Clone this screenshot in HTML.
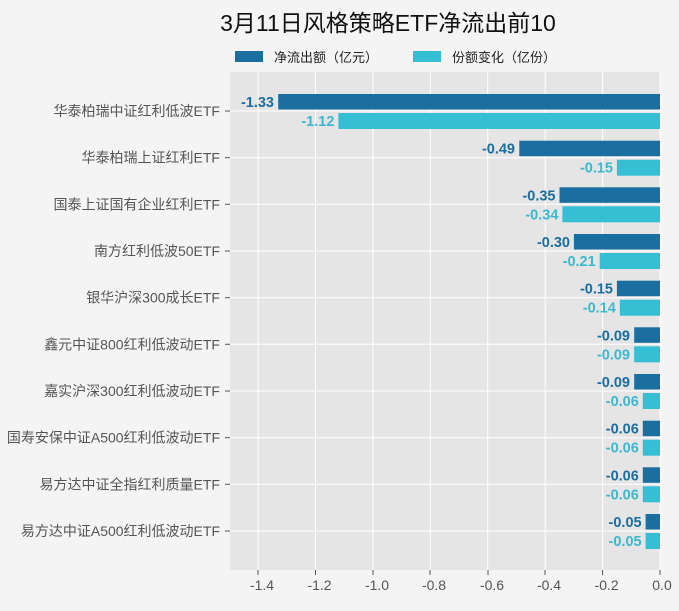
<!DOCTYPE html>
<html><head><meta charset="utf-8"><style>body{margin:0;background:#f4f4f4}</style></head><body>
<svg width="679" height="606" xmlns="http://www.w3.org/2000/svg" font-family="'Liberation Sans','Noto Sans CJK SC',sans-serif">
<rect width="679" height="606" fill="#f4f4f4"/>
<text x="388" y="31" font-size="23" text-anchor="middle" fill="#111">3月11日风格策略ETF净流出前10</text>
<rect x="235" y="51" width="28" height="11" fill="#1a6ea0"/>
<text x="274" y="62" font-size="13" fill="#222">净流出额（亿元）</text>
<rect x="413" y="51" width="28" height="11" fill="#36bfd4"/>
<text x="452" y="62" font-size="13" fill="#222">份额变化（亿份）</text>
<rect x="230" y="72" width="430" height="498" fill="#e5e5e5"/>
<g stroke="#fff" stroke-width="1">
<line x1="258.1" y1="72" x2="258.1" y2="570"/><line x1="315.5" y1="72" x2="315.5" y2="570"/><line x1="372.9" y1="72" x2="372.9" y2="570"/><line x1="430.3" y1="72" x2="430.3" y2="570"/><line x1="487.7" y1="72" x2="487.7" y2="570"/><line x1="545.2" y1="72" x2="545.2" y2="570"/><line x1="602.6" y1="72" x2="602.6" y2="570"/><line x1="660" y1="72" x2="660" y2="570"/>
<line x1="230" y1="111" x2="660" y2="111"/><line x1="230" y1="157.7" x2="660" y2="157.7"/><line x1="230" y1="204.3" x2="660" y2="204.3"/><line x1="230" y1="251" x2="660" y2="251"/><line x1="230" y1="297.7" x2="660" y2="297.7"/><line x1="230" y1="344.3" x2="660" y2="344.3"/><line x1="230" y1="391" x2="660" y2="391"/><line x1="230" y1="437.7" x2="660" y2="437.7"/><line x1="230" y1="484.3" x2="660" y2="484.3"/><line x1="230" y1="531" x2="660" y2="531"/>
</g>
<g stroke="#555">
<line x1="225" y1="111" x2="230" y2="111"/><line x1="225" y1="157.7" x2="230" y2="157.7"/><line x1="225" y1="204.3" x2="230" y2="204.3"/><line x1="225" y1="251" x2="230" y2="251"/><line x1="225" y1="297.7" x2="230" y2="297.7"/><line x1="225" y1="344.3" x2="230" y2="344.3"/><line x1="225" y1="391" x2="230" y2="391"/><line x1="225" y1="437.7" x2="230" y2="437.7"/><line x1="225" y1="484.3" x2="230" y2="484.3"/><line x1="225" y1="531" x2="230" y2="531"/>
<line x1="258" y1="570" x2="258" y2="575"/><line x1="315.5" y1="570" x2="315.5" y2="575"/><line x1="373" y1="570" x2="373" y2="575"/><line x1="430" y1="570" x2="430" y2="575"/><line x1="488" y1="570" x2="488" y2="575"/><line x1="545" y1="570" x2="545" y2="575"/><line x1="602.6" y1="570" x2="602.6" y2="575"/><line x1="660" y1="570" x2="660" y2="575"/>
</g>
<g font-size="14" fill="#555" text-anchor="end">
<text x="220" y="116">华泰柏瑞中证红利低波ETF</text>
<text x="220" y="162.7">华泰柏瑞上证红利ETF</text>
<text x="220" y="209.3">国泰上证国有企业红利ETF</text>
<text x="220" y="256">南方红利低波50ETF</text>
<text x="220" y="302.7">银华沪深300成长ETF</text>
<text x="220" y="349.3">鑫元中证800红利低波动ETF</text>
<text x="220" y="396">嘉实沪深300红利低波动ETF</text>
<text x="220" y="442.7">国寿安保中证A500红利低波动ETF</text>
<text x="220" y="489.3">易方达中证全指红利质量ETF</text>
<text x="220" y="536">易方达中证A500红利低波动ETF</text>
</g>
<g fill="#1a6ea0">
<rect x="278.2" y="94" width="381.8" height="15.5"/>
<rect x="519.3" y="140.7" width="140.7" height="15.5"/>
<rect x="559.5" y="187.3" width="100.5" height="15.5"/>
<rect x="573.9" y="234" width="86.1" height="15.5"/>
<rect x="616.9" y="280.7" width="43.1" height="15.5"/>
<rect x="634.2" y="327.3" width="25.8" height="15.5"/>
<rect x="634.2" y="374" width="25.8" height="15.5"/>
<rect x="642.8" y="420.7" width="17.2" height="15.5"/>
<rect x="642.8" y="467.3" width="17.2" height="15.5"/>
<rect x="645.6" y="514" width="14.4" height="15.5"/>
</g>
<g fill="#36bfd4">
<rect x="338.4" y="113" width="321.6" height="16"/>
<rect x="616.9" y="159.7" width="43.1" height="16"/>
<rect x="562.4" y="206.3" width="97.6" height="16"/>
<rect x="599.7" y="253" width="60.3" height="16"/>
<rect x="619.8" y="299.7" width="40.2" height="16"/>
<rect x="634.2" y="346.3" width="25.8" height="16"/>
<rect x="642.8" y="393" width="17.2" height="16"/>
<rect x="642.8" y="439.7" width="17.2" height="16"/>
<rect x="642.8" y="486.3" width="17.2" height="16"/>
<rect x="645.6" y="533" width="14.4" height="16"/>
</g>
<g font-size="14.5" font-weight="bold" fill="#1a6ea0" text-anchor="end">
<text x="274" y="107">-1.33</text>
<text x="515" y="153.7">-0.49</text>
<text x="555.5" y="200.3">-0.35</text>
<text x="570" y="247">-0.30</text>
<text x="613" y="293.7">-0.15</text>
<text x="630" y="340.3">-0.09</text>
<text x="630" y="387">-0.09</text>
<text x="638.8" y="433.7">-0.06</text>
<text x="638.8" y="480.3">-0.06</text>
<text x="641.6" y="527">-0.05</text>
</g>
<g font-size="14.5" font-weight="bold" fill="#3bb8d0" text-anchor="end">
<text x="334.4" y="126">-1.12</text>
<text x="613" y="172.7">-0.15</text>
<text x="558.4" y="219.3">-0.34</text>
<text x="595.7" y="266">-0.21</text>
<text x="615.8" y="312.7">-0.14</text>
<text x="630" y="359.3">-0.09</text>
<text x="638.8" y="406">-0.06</text>
<text x="638.8" y="452.7">-0.06</text>
<text x="638.8" y="499.3">-0.06</text>
<text x="641.6" y="546">-0.05</text>
</g>
<g font-size="14" fill="#555" text-anchor="middle">
<text x="262" y="590">-1.4</text><text x="319.5" y="590">-1.2</text><text x="377" y="590">-1.0</text><text x="434" y="590">-0.8</text><text x="492" y="590">-0.6</text><text x="549" y="590">-0.4</text><text x="606.6" y="590">-0.2</text><text x="662" y="590">0.0</text>
</g>
</svg>
</body></html>
